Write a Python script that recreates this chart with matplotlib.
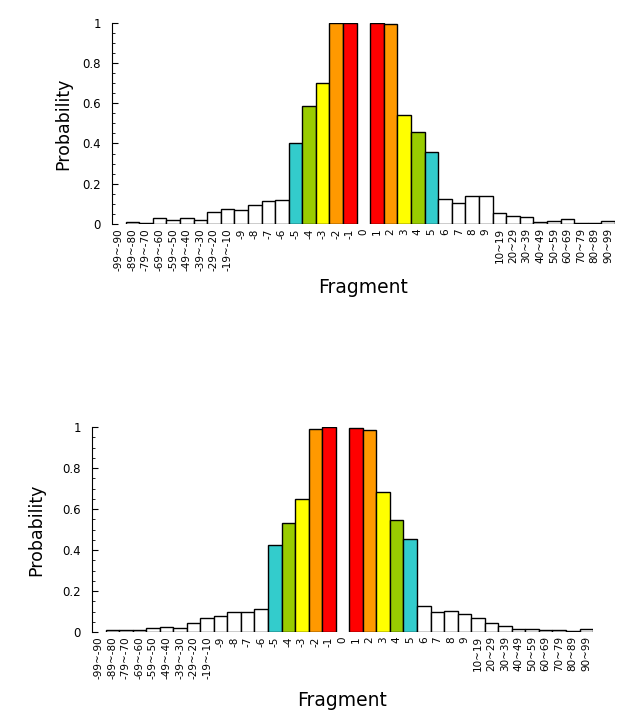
import numpy as np
import matplotlib
matplotlib.use('Agg')
import matplotlib.pyplot as plt
from matplotlib.ticker import MultipleLocator

# categorias del eje x
frags = ['-99~-90', '-89~-80', '-79~-70', '-69~-60', '-59~-50', '-49~-40',
         '-39~-30', '-29~-20', '-19~-10', '-9', '-8', '-7', '-6', '-5', '-4',
         '-3', '-2', '-1', '0', '1', '2', '3', '4', '5', '6', '7', '8', '9',
         '10~19', '20~29', '30~39', '40~49', '50~59', '60~69', '70~79',
         '80~89', '90~99']

# probabilidades
prob_top = [0, 0.01, 0.007, 0.03, 0.02, 0.03, 0.02, 0.058, 0.076, 0.071,
            0.096, 0.113, 0.118, 0.40, 0.586, 0.699, 1.0, 1.0, 0,
            1.0, 0.993, 0.54, 0.459, 0.356, 0.126, 0.103, 0.137, 0.137,
            0.053, 0.041, 0.035, 0.01, 0.017, 0.026, 0.005, 0.005, 0.017]

prob_bot = [0, 0.008, 0.011, 0.011, 0.019, 0.026, 0.019, 0.042, 0.069, 0.079,
            0.097, 0.097, 0.113, 0.426, 0.534, 0.648, 0.989, 1.0, 0,
            0.997, 0.985, 0.681, 0.545, 0.453, 0.127, 0.097, 0.102, 0.090,
            0.069, 0.044, 0.031, 0.015, 0.015, 0.011, 0.011, 0.005, 0.013]

yticks = [0, 0.2, 0.4, 0.6, 0.8, 1.0]
ylabels = ['0', '0.2', '0.4', '0.6', '0.8', '1']

# colores segun distancia al 0
dist_colors = {1: '#ff0000', 2: '#ff9900', 3: '#ffff00', 4: '#99cc00', 5: '#33cccc'}


def bar_colors():
    cols = []
    for f in frags:
        try:
            d = abs(int(f))
        except ValueError:
            d = 99
        cols.append(dist_colors.get(d, 'white'))
    return cols


def draw(ax, vals, ypad, xpad):
    x = np.arange(len(frags))
    v = np.array(vals)
    lw = np.where(v > 0, 1.0, 0.0)
    ax.bar(x, v, width=1.0, color=bar_colors(), edgecolor='black', linewidth=lw)
    ax.set_xlim(-0.5, len(frags) - 0.5)
    ax.set_ylim(0, 1)
    ax.set_xticks(x)
    ax.set_xticklabels(frags, rotation=90, fontsize=7.5)
    ax.set_yticks(yticks)
    ax.set_yticklabels(ylabels, fontsize=8.5)
    ax.yaxis.set_minor_locator(MultipleLocator(0.05))
    ax.tick_params(axis='y', which='major', direction='in', length=4, pad=8)
    ax.tick_params(axis='y', which='minor', direction='in', length=2.5)
    ax.tick_params(axis='x', length=0, pad=3)
    for s in ['top', 'right', 'bottom']:
        ax.spines[s].set_visible(False)
    ax.set_xlabel('Fragment', fontsize=13.5, labelpad=xpad)
    ax.set_ylabel('Probability', fontsize=12.5, labelpad=ypad)


fig = plt.figure(figsize=(6.24, 7.21), dpi=100)
ax1 = fig.add_axes([0.1795, 0.6893, 0.806, 0.2792])
draw(ax1, prob_top, 7, 5.5)
ax2 = fig.add_axes([0.1474, 0.1234, 0.803, 0.2843])
draw(ax2, prob_bot, 12, 9)

plt.savefig('out.png', dpi=100)
